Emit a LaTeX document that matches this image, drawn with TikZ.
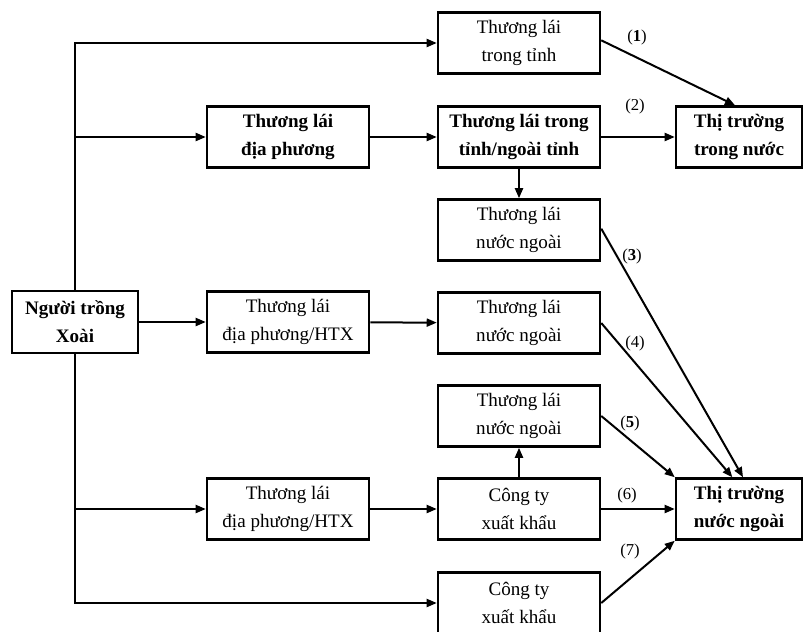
\documentclass[tikz,border=0pt]{standalone}
\usepackage{fontspec}
\setmainfont{Liberation Serif}
\usetikzlibrary{arrows.meta}
\begin{document}
\begin{tikzpicture}[x=0.75pt, y=-0.75pt,
    box/.style={draw, line width=1.9pt, minimum width=121.5pt, minimum height=45.75pt,
        align=center, inner sep=2pt, font=\fontsize{14.3}{21}\selectfont},
    bbox/.style={box, font=\fontsize{14.3}{21}\selectfont\bfseries},
    arr/.style={line width=1.5pt, -{Triangle[length=7.5pt,width=6pt]}},
    lab/.style={font=\fontsize{12.5}{14}\selectfont, inner sep=1pt}]
    \useasboundingbox (0,0) rectangle (804,632);

    % Grower
    \node[bbox, minimum width=94.5pt, minimum height=46.5pt] (grower) at (75,322) {Người trồng\\Xoài};

    % Middlemen and companies
    \node[box] (tl1) at (519,43) {Thương lái\\trong tỉnh};
    \node[bbox] (tld) at (288,137) {Thương lái\\địa phương};
    \node[bbox] (tlt) at (519,137) {Thương lái trong\\tỉnh/ngoài tỉnh};
    \node[box] (nn3) at (519,230) {Thương lái\\nước ngoài};
    \node[box] (htx1) at (288,322) {Thương lái\\địa phương/HTX};
    \node[box] (nn4) at (519,323) {Thương lái\\nước ngoài};
    \node[box] (nn5) at (519,416) {Thương lái\\nước ngoài};
    \node[box] (htx2) at (288,509) {Thương lái\\địa phương/HTX};
    \node[box] (ctx1) at (519,509) {Công ty\\xuất khẩu};
    \node[box] (ctx2) at (519,603) {Công ty\\xuất khẩu};

    % Markets
    \node[bbox, minimum width=94.5pt] (ttn) at (739,137) {Thị trường\\trong nước};
    \node[bbox, minimum width=94.5pt] (tnn) at (739,509) {Thị trường\\nước ngoài};

    % Trunk from the grower
    \draw[arr] (grower.north) |- (tl1.west);
    \draw[arr] (grower.north) |- (tld.west);
    \draw[arr] (grower) -- (htx1);
    \draw[arr] (grower.south) |- (htx2.west);
    \draw[arr] (grower.south) |- (ctx2.west);

    % Between middlemen
    \draw[arr] (tld) -- (tlt);
    \draw[arr] (tlt) -- (nn3);
    \draw[arr] (htx1) -- (nn4);
    \draw[arr] (htx2) -- (ctx1);
    \draw[arr] (ctx1) -- (nn5);

    % Channels to the markets
    \draw[arr] ([yshift=2pt]tl1.east) -- ([xshift=-3pt]ttn.north);
    \draw[arr] (tlt) -- (ttn);
    \draw[arr] ([yshift=1pt]nn3.east) -- ([xshift=3pt]tnn.north);
    \draw[arr] (nn4.east) -- ([xshift=-5pt]tnn.north);
    \draw[arr] (nn5.east) -- (tnn.north west);
    \draw[arr] (ctx1) -- (tnn);
    \draw[arr] (ctx2.east) -- (tnn.south west);

    % Channel numbers
    \node[lab] (c1) at (637,37) {(\textbf{1})};
    \node[lab] (c2) at (635,106) {(2)};
    \node[lab] (c3) at (632,256) {(\textbf{3})};
    \node[lab] (c4) at (635,343) {(4)};
    \node[lab] (c5) at (630,423) {(\textbf{5})};
    \node[lab] (c6) at (627,495) {(6)};
    \node[lab] (c7) at (630,551) {(7)};
\end{tikzpicture}
\end{document}
